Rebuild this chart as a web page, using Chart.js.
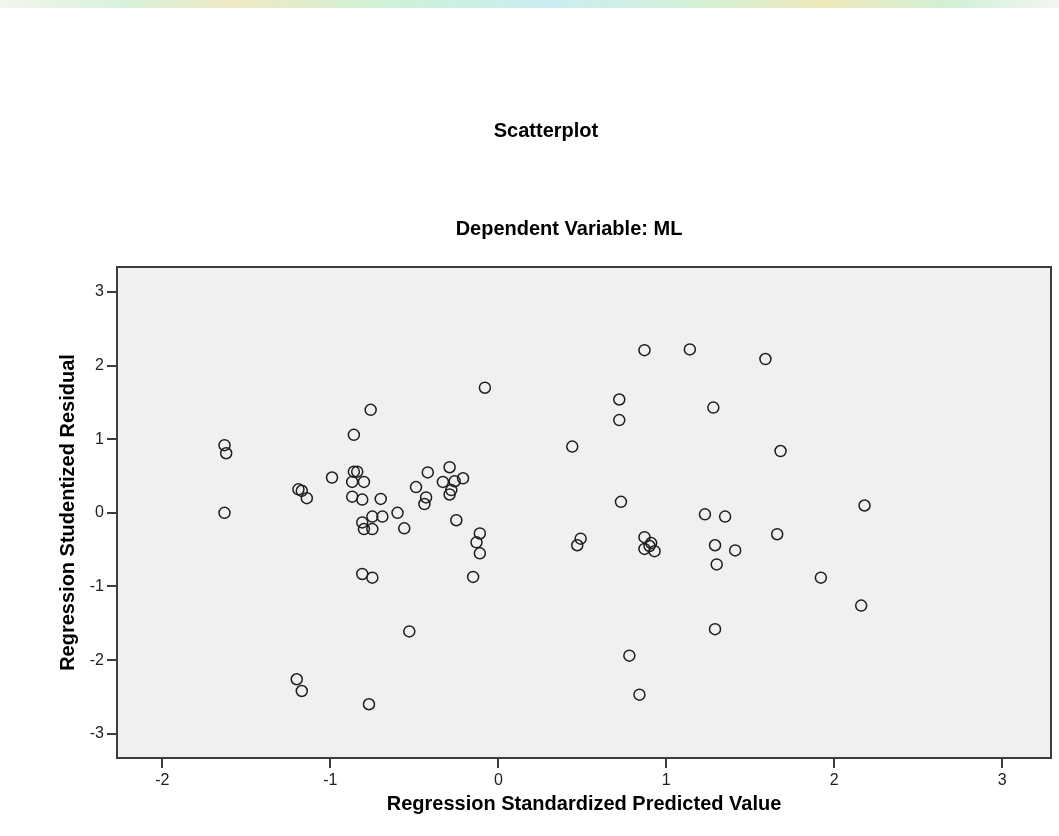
<!DOCTYPE html>
<html>
<head>
<meta charset="utf-8">
<script src="https://cdn.jsdelivr.net/npm/chart.js@4/dist/chart.umd.min.js"></script>
<style>
  body { margin: 0; background: #fff; }
  #wrap { position: relative; width: 1059px; height: 836px; }
  #strip {
    position: absolute; left: 0; top: 0; width: 1059px; height: 8px; z-index: 2;
    background: linear-gradient(90deg, #f3f6ec, #d8f1dc 12%, #efeac2 22%, #cdf2da 38%, #cbeef2 52%, #d4f1d8 66%, #eee9ba 78%, #d2f0d8 90%, #f5f5f0);
  }
  canvas { display: block; }
</style>
</head>
<body>
<div id="wrap">
  <div id="strip"></div>
  <canvas id="chart" width="1059" height="836"></canvas>
</div>
<script>
// standardized predicted value (x) vs studentized residual (y)
const predicted = [
  -1.63, -1.62, -1.63, -1.20, -1.17,
  -1.19, -1.17, -1.14,
  -0.99, -0.86, -0.76, -0.86, -0.84, -0.87, -0.80, -0.87, -0.81, -0.70,
  -0.81, -0.75, -0.80, -0.75, -0.81, -0.75, -0.77,
  -0.69, -0.60, -0.56, -0.44, -0.25, -0.11, -0.13, -0.11, -0.15, -0.53,
  -0.08, -0.42, -0.49, -0.29, -0.33, -0.26, -0.21, -0.28, -0.29, -0.43,
  0.44, 0.72, 0.72, 0.73, 0.87, 1.14, 1.28, 1.59, 1.68, 2.18,
  0.49, 0.47, 0.87, 0.91, 0.87, 0.93, 0.90, 0.78, 0.84, 1.23, 1.29, 1.30, 1.29, 1.35, 1.66, 1.41, 1.92, 2.16
];
const residual = [
  0.92, 0.81, 0.00, -2.26, -2.42,
  0.32, 0.30, 0.20,
  0.48, 1.06, 1.40, 0.56, 0.56, 0.42, 0.42, 0.22, 0.18, 0.19,
  -0.13, -0.05, -0.22, -0.22, -0.83, -0.88, -2.60,
  -0.05, 0.00, -0.21, 0.12, -0.10, -0.28, -0.40, -0.55, -0.87, -1.61,
  1.70, 0.55, 0.35, 0.62, 0.42, 0.43, 0.47, 0.31, 0.25, 0.21,
  0.90, 1.54, 1.26, 0.15, 2.21, 2.22, 1.43, 2.09, 0.84, 0.10,
  -0.35, -0.44, -0.33, -0.41, -0.49, -0.52, -0.45, -1.94, -2.47, -0.02, -0.44, -0.70, -1.58, -0.05, -0.29, -0.51, -0.88, -1.26
];
const xTicks = [-2, -1, 0, 1, 2, 3];
const yTicks = [-3, -2, -1, 0, 1, 2, 3];
const xRange = [-2.27, 3.29];
const yRange = [-3.33, 3.34];
const mainTitle = 'Scatterplot';
const subTitle = 'Dependent Variable: ML';
const xLabel = 'Regression Standardized Predicted Value';
const yLabel = 'Regression Studentized Residual';

const points = predicted.map((x, i) => ({ x, y: residual[i] }));
const FONT = '"Liberation Sans", Arial, sans-serif';

// grey plot box with a dark frame, plus the two titles above it
const frame = {
  id: 'frame',
  beforeDatasetsDraw(chart) {
    const { ctx, chartArea: a } = chart;
    ctx.save();
    ctx.fillStyle = '#f0f0f0';
    ctx.fillRect(a.left, a.top, a.right - a.left, a.bottom - a.top);
    ctx.restore();
  },
  afterDraw(chart) {
    const { ctx, chartArea: a } = chart;
    ctx.save();
    ctx.strokeStyle = '#3c3c3c';
    ctx.lineWidth = 2;
    ctx.strokeRect(a.left, a.top, a.right - a.left, a.bottom - a.top);
    ctx.fillStyle = '#000';
    ctx.textAlign = 'center';
    ctx.textBaseline = 'middle';
    ctx.font = 'bold 20px ' + FONT;
    ctx.fillText(mainTitle, 546, 131);
    ctx.fillText(subTitle, 569, 229);
    ctx.restore();
  }
};

const onlyIntegers = list => scale => {
  scale.ticks = list.map(v => ({ value: v }));
};

new Chart(document.getElementById('chart'), {
  type: 'scatter',
  data: {
    datasets: [{
      data: points,
      pointStyle: 'circle',
      pointRadius: 5.5,
      pointBorderWidth: 1.5,
      pointBorderColor: '#1e1e1e',
      pointBackgroundColor: 'rgba(0,0,0,0)'
    }]
  },
  options: {
    responsive: false,
    animation: false,
    layout: { padding: { top: 267, right: 8, left: 0, bottom: 0 } },
    plugins: { legend: { display: false }, tooltip: { enabled: false } },
    scales: {
      x: {
        min: xRange[0],
        max: xRange[1],
        afterBuildTicks: onlyIntegers(xTicks),
        afterFit: s => { s.height = 78; },
        grid: { drawOnChartArea: false, drawTicks: true, tickLength: 10, color: '#3c3c3c', lineWidth: 2 },
        border: { display: false },
        ticks: { color: '#222', font: { family: FONT, size: 16 }, padding: 3, maxRotation: 0 },
        title: { display: true, text: xLabel, color: '#000', font: { family: FONT, size: 20, weight: 'bold' }, padding: { bottom: 20 } }
      },
      y: {
        min: yRange[0],
        max: yRange[1],
        afterBuildTicks: onlyIntegers(yTicks),
        afterFit: s => { s.width = 117; },
        grid: { drawOnChartArea: false, drawTicks: true, tickLength: 10, color: '#3c3c3c', lineWidth: 2 },
        border: { display: false },
        ticks: { color: '#222', font: { family: FONT, size: 16 }, padding: 3 },
        title: { display: true, text: yLabel, color: '#000', font: { family: FONT, size: 20, weight: 'bold' }, padding: { top: 56 } }
      }
    }
  },
  plugins: [frame]
});
</script>
</body>
</html>
